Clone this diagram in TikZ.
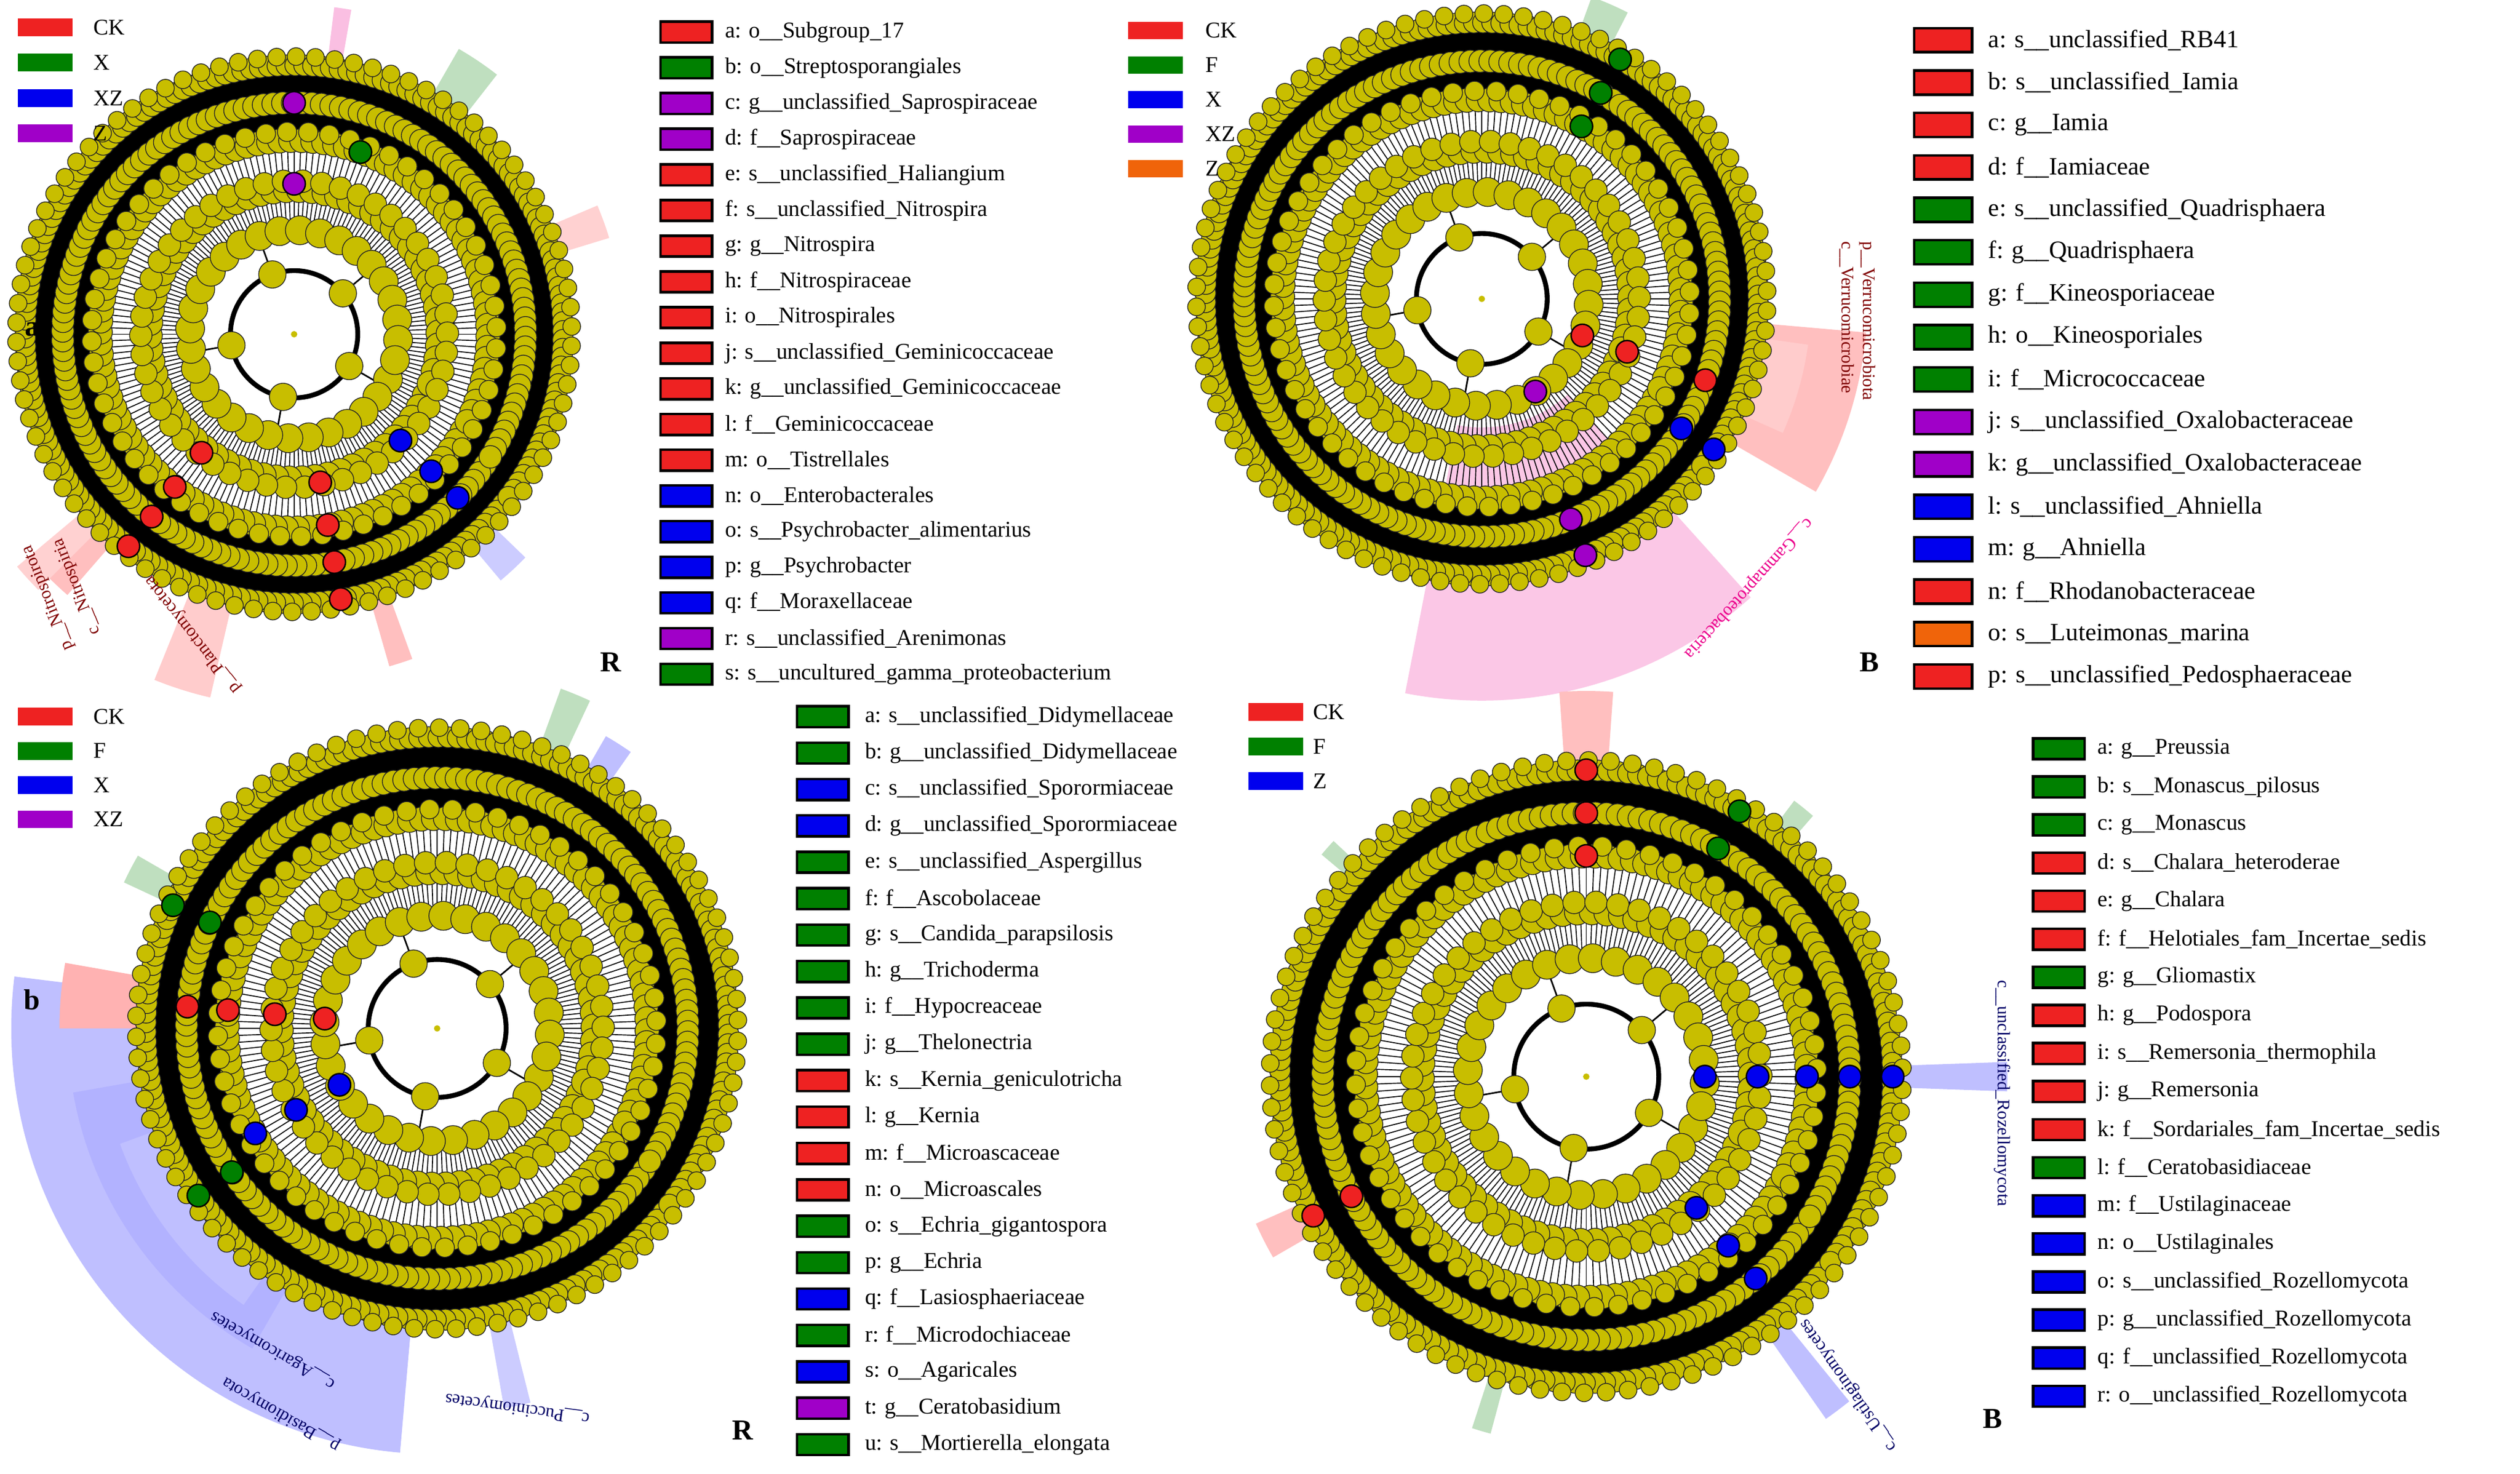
\documentclass[tikz,border=0pt]{standalone}
\usepackage{fontspec}
\setmainfont{Liberation Serif}
\definecolor{cladY}{RGB}{200,190,0}
\definecolor{lr}{RGB}{238,34,34}
\definecolor{lg}{RGB}{0,128,0}
\definecolor{lb}{RGB}{0,0,238}
\definecolor{lp}{RGB}{160,0,200}
\definecolor{lo}{RGB}{240,100,10}
\tikzset{
 leg/.style={draw=black,line width=1.6pt,minimum width=32pt,minimum height=13pt,inner sep=0pt},
 gleg/.style={minimum width=34pt,minimum height=11pt,inner sep=0pt},
 ltxt/.style={anchor=west,font=\fontsize{14}{14}\selectfont,inner sep=0pt},
 bub/.style={fill=cladY,draw=black!85,line width=0.5pt},
 wlab/.style={font=\fontsize{11}{11}\selectfont,inner sep=0pt}
}
\newcommand\cladogram[1]{%
 \pgfmathsetmacro\myR{#1}\pgfmathsetmacro\mylw{0.07*#1}%
 \foreach \ang in {0,2,...,358} \draw[line width=0.6pt] (\ang:{0.36*\myR}) -- (\ang:{0.93*\myR});
 \draw[line width=\mylw pt] (0,0) circle ({0.735*\myR});
 \draw[line width=\mylw pt] (0,0) circle ({0.865*\myR});
 \draw[line width=3pt] (0,0) circle ({0.22*\myR});
 \draw[line width=2pt] (0,0) circle ({0.36*\myR});
 \foreach \ang in {30,100,170,250,320} {\draw[line width=1pt] (\ang:{0.22*\myR}) -- (\ang:{0.36*\myR}); \filldraw[bub] (\ang:{0.22*\myR}) circle (8.5);}
 \foreach \rad/\cnt/\sz in {0.36/32/9, 0.50/70/8, 0.53/50/7, 0.67/110/7.5, 0.70/60/6, 0.8/150/7, 0.93/190/6.5, 0.96/90/5.5}
   {\foreach \idx in {1,...,\cnt} {\pgfmathsetmacro\pa{360/\cnt*\idx+\rad*40}\pgfmathsetmacro\pr{\rad*\myR}\filldraw[bub] (\pa:\pr) circle (\sz);}}
 \fill[cladY] (0,0) circle (2);
}
\newcommand\wdg[5]{\fill[#1] (#2:#4) arc[start angle=#2,end angle=#3,radius=#4] -- (#3:#5) arc[start angle=#3,end angle=#2,radius=#5] -- cycle;}
\newcommand\hl[4]{\foreach \rad in {#3} {\pgfmathsetmacro\pr{\rad*#4}\filldraw[fill=#1,draw=black,line width=0.9pt] (#2:\pr) circle (7);}}
\begin{document}
\begin{tikzpicture}[x=1pt,y=-1pt]
\useasboundingbox[fill=white] (0,0) rectangle (1568,917);
% ---------------- panel a
\begin{scope}[shift={(183,208)}]
 \wdg{red!20}{103}{112}{140}{232}
 \wdg{red!25}{131}{137}{150}{215}
 \wdg{red!18}{135}{140}{150}{225}
 \wdg{red!25}{70}{74}{160}{215}
 \wdg{blue!20}{44}{50}{150}{200}
 \wdg{blue!20}{34}{38}{150}{175}
 \wdg{green!50!black!25}{300}{308}{150}{205}
 \wdg{red!18}{337}{343}{150}{205}
 \wdg{magenta!25}{277}{280}{150}{205}
 \cladogram{180}
 \hl{lr}{128}{0.52,0.67,0.8,0.93}{180}
 \hl{lr}{80}{0.52,0.67,0.8,0.93}{180}
 \hl{lb}{45}{0.52,0.67,0.8}{180}
 \hl{lp}{270}{0.52,0.8}{180}
 \hl{lg}{290}{0.67}{180}
\end{scope}
\node[wlab,text=red!50!black,rotate=128] (ta1) at (120,395) {p\_\_Planctomycetota};
\node[wlab,text=red!50!black,rotate=112] (ta2) at (48,365) {c\_\_Nitrospiria};
\node[wlab,text=red!50!black,rotate=112] (ta3) at (30,372) {p\_\_Nitrospirota};
% ---------------- panel B top
\begin{scope}[shift={(922,186)}]
 \wdg{magenta!22}{48}{101}{80}{250}
 \wdg{red!25}{5}{30}{140}{240}
 \wdg{red!20}{8}{24}{140}{205}
 \wdg{green!50!black!25}{290}{297}{150}{200}
 \cladogram{185}
 \hl{lr}{20}{0.36,0.52,0.8}{185}
 \hl{lp}{60}{0.36}{185}
 \hl{lb}{33}{0.8,0.93}{185}
 \hl{lg}{300}{0.67,0.8,0.93}{185}
 \hl{lp}{68}{0.8,0.93}{185}
\end{scope}
\node[wlab,text=magenta,rotate=-132] (tb1) at (1088,366) {c\_\_Gammaproteobacteria};
\node[wlab,text=red!50!black,rotate=-90,anchor=west] (tb2) at (1162,150) {p\_\_Verrucomicrobiota};
\node[wlab,text=red!50!black,rotate=-90,anchor=west] (tb3) at (1149,150) {c\_\_Verrucomicrobiae};
% ---------------- panel b
\begin{scope}[shift={(272,640)}]
 \wdg{blue!25}{95}{187}{130}{265}
 \wdg{blue!30}{120}{170}{150}{230}
 \wdg{blue!25}{125}{160}{180}{210}
 \wdg{red!30}{180}{190}{150}{235}
 \wdg{blue!20}{76}{80}{170}{240}
 \wdg{green!50!black!25}{290}{295}{170}{225}
 \wdg{green!50!black!25}{205}{210}{170}{215}
 \wdg{blue!25}{300}{305}{170}{210}
 \cladogram{195}
 \hl{lr}{185}{0.36,0.52,0.67,0.8}{195}
 \hl{lb}{150}{0.36,0.52,0.67}{195}
 \hl{lg}{205}{0.8,0.93}{195}
 \hl{lg}{145}{0.8,0.93}{195}
\end{scope}
\node[wlab,text=blue!40!black,rotate=150] (tc1) at (175,880) {p\_\_Basidiomycota};
\node[wlab,text=blue!40!black,rotate=150] (tc2) at (170,840) {c\_\_Agaricomycetes};
\node[wlab,text=blue!40!black,rotate=172] (tc3) at (322,876) {c\_\_Pucciniomycetes};
% ---------------- panel B bottom
\begin{scope}[shift={(987,670)}]
 \wdg{blue!25}{-2}{2}{150}{262}
 \wdg{blue!25}{51}{55}{170}{260}
 \wdg{red!25}{266}{274}{170}{240}
 \wdg{red!25}{150}{156}{170}{225}
 \wdg{green!50!black!25}{307}{311}{170}{215}
 \wdg{green!50!black!25}{105}{108}{170}{230}
 \wdg{green!50!black!25}{220}{223}{170}{215}
 \cladogram{205}
 \hl{lr}{270}{0.67,0.8,0.93}{205}
 \hl{lb}{0}{0.36,0.52,0.67,0.8,0.93}{205}
 \hl{lb}{50}{0.52,0.67,0.8}{205}
 \hl{lr}{153}{0.8,0.93}{205}
 \hl{lg}{300}{0.8,0.93}{205}
\end{scope}
\node[wlab,text=blue!40!black,rotate=-90,anchor=west] (td1) at (1246,610) {c\_\_unclassified\_Rozellomycota};
\node[wlab,text=blue!40!black,rotate=125] (td2) at (1150,862) {c\_\_Ustilaginomycetes};
% ---------------- panel labels
\node[font=\bfseries\fontsize{18}{18}\selectfont] (pa) at (20,205) {a};
\node[font=\bfseries\fontsize{18}{18}\selectfont] (pR1) at (380,412) {R};
\node[font=\bfseries\fontsize{18}{18}\selectfont] (pB1) at (1163,412) {B};
\node[font=\bfseries\fontsize{18}{18}\selectfont] (pb) at (20,622) {b};
\node[font=\bfseries\fontsize{18}{18}\selectfont] (pR2) at (462,890) {R};
\node[font=\bfseries\fontsize{18}{18}\selectfont] (pB2) at (1240,883) {B};
% ---------------- group legends
\foreach \c/\t [count=\i] in {lr/CK,lg/X,lb/XZ,lp/Z} {
 \node[gleg,fill=\c] (ga\i) at (28,{17+22*(\i-1)}) {};
 \node[ltxt] (gat\i) at (58,{17+22*(\i-1)}) {\t};}
\foreach \c/\t [count=\i] in {lr/CK,lg/F,lb/X,lp/XZ,lo/Z} {
 \node[gleg,fill=\c] (gb\i) at (719,{19+21.5*(\i-1)}) {};
 \node[ltxt] (gbt\i) at (750,{19+21.5*(\i-1)}) {\t};}
\foreach \c/\t [count=\i] in {lr/CK,lg/F,lb/X,lp/XZ} {
 \node[gleg,fill=\c] (gc\i) at (28,{446+21.3*(\i-1)}) {};
 \node[ltxt] (gct\i) at (58,{446+21.3*(\i-1)}) {\t};}
\foreach \c/\t [count=\i] in {lr/CK,lg/F,lb/Z} {
 \node[gleg,fill=\c] (gd\i) at (794,{443+21.5*(\i-1)}) {};
 \node[ltxt] (gdt\i) at (817,{443+21.5*(\i-1)}) {\t};}
% ---------------- feature legends
\foreach \c/\t [count=\i] in {lr/a: o\_\_Subgroup\_17, lg/b: o\_\_Streptosporangiales, lp/c: g\_\_unclassified\_Saprospiraceae, lp/d: f\_\_Saprospiraceae, lr/e: s\_\_unclassified\_Haliangium, lr/f: s\_\_unclassified\_Nitrospira, lr/g: g\_\_Nitrospira, lr/h: f\_\_Nitrospiraceae, lr/i: o\_\_Nitrospirales, lr/j: s\_\_unclassified\_Geminicoccaceae, lr/k: g\_\_unclassified\_Geminicoccaceae, lr/l: f\_\_Geminicoccaceae, lr/m: o\_\_Tistrellales, lb/n: o\_\_Enterobacterales, lb/o: s\_\_Psychrobacter\_alimentarius, lb/p: g\_\_Psychrobacter, lb/q: f\_\_Moraxellaceae, lp/r: s\_\_unclassified\_Arenimonas, lg/s: s\_\_uncultured\_gamma\_proteobacterium} {
 \node[leg,fill=\c] (la\i) at (427,{20+22.2*(\i-1)}) {};
 \node[ltxt] (lat\i) at (451,{20+22.2*(\i-1)}) {\t};}
\foreach \c/\t [count=\i] in {lr/a: s\_\_unclassified\_RB41, lr/b: s\_\_unclassified\_Iamia, lr/c: g\_\_Iamia, lr/d: f\_\_Iamiaceae, lg/e: s\_\_unclassified\_Quadrisphaera, lg/f: g\_\_Quadrisphaera, lg/g: f\_\_Kineosporiaceae, lg/h: o\_\_Kineosporiales, lg/i: f\_\_Micrococcaceae, lp/j: s\_\_unclassified\_Oxalobacteraceae, lp/k: g\_\_unclassified\_Oxalobacteraceae, lb/l: s\_\_unclassified\_Ahniella, lb/m: g\_\_Ahniella, lr/n: f\_\_Rhodanobacteraceae, lo/o: s\_\_Luteimonas\_marina, lr/p: s\_\_unclassified\_Pedosphaeraceae} {
 \node[leg,fill=\c,minimum width=36pt,minimum height=15pt] (lb\i) at (1209,{25+26.4*(\i-1)}) {};
 \node[ltxt,font=\fontsize{15.5}{15.5}\selectfont] (lbt\i) at (1237,{25+26.4*(\i-1)}) {\t};}
\foreach \c/\t [count=\i] in {lg/a: s\_\_unclassified\_Didymellaceae, lg/b: g\_\_unclassified\_Didymellaceae, lb/c: s\_\_unclassified\_Sporormiaceae, lb/d: g\_\_unclassified\_Sporormiaceae, lg/e: s\_\_unclassified\_Aspergillus, lg/f: f\_\_Ascobolaceae, lg/g: s\_\_Candida\_parapsilosis, lg/h: g\_\_Trichoderma, lg/i: f\_\_Hypocreaceae, lg/j: g\_\_Thelonectria, lr/k: s\_\_Kernia\_geniculotricha, lr/l: g\_\_Kernia, lr/m: f\_\_Microascaceae, lr/n: o\_\_Microascales, lg/o: s\_\_Echria\_gigantospora, lg/p: g\_\_Echria, lb/q: f\_\_Lasiosphaeriaceae, lg/r: f\_\_Microdochiaceae, lb/s: o\_\_Agaricales, lp/t: g\_\_Ceratobasidium, lg/u: s\_\_Mortierella\_elongata} {
 \node[leg,fill=\c] (lc\i) at (512,{446+22.65*(\i-1)}) {};
 \node[ltxt] (lct\i) at (538,{446+22.65*(\i-1)}) {\t};}
\foreach \c/\t [count=\i] in {lg/a: g\_\_Preussia, lg/b: s\_\_Monascus\_pilosus, lg/c: g\_\_Monascus, lr/d: s\_\_Chalara\_heteroderae, lr/e: g\_\_Chalara, lr/f: f\_\_Helotiales\_fam\_Incertae\_sedis, lg/g: g\_\_Gliomastix, lr/h: g\_\_Podospora, lr/i: s\_\_Remersonia\_thermophila, lr/j: g\_\_Remersonia, lr/k: f\_\_Sordariales\_fam\_Incertae\_sedis, lg/l: f\_\_Ceratobasidiaceae, lb/m: f\_\_Ustilaginaceae, lb/n: o\_\_Ustilaginales, lb/o: s\_\_unclassified\_Rozellomycota, lb/p: g\_\_unclassified\_Rozellomycota, lb/q: f\_\_unclassified\_Rozellomycota, lb/r: o\_\_unclassified\_Rozellomycota} {
 \node[leg,fill=\c] (ld\i) at (1281,{466+23.7*(\i-1)}) {};
 \node[ltxt] (ldt\i) at (1305,{466+23.7*(\i-1)}) {\t};}
\end{tikzpicture}
\end{document}
